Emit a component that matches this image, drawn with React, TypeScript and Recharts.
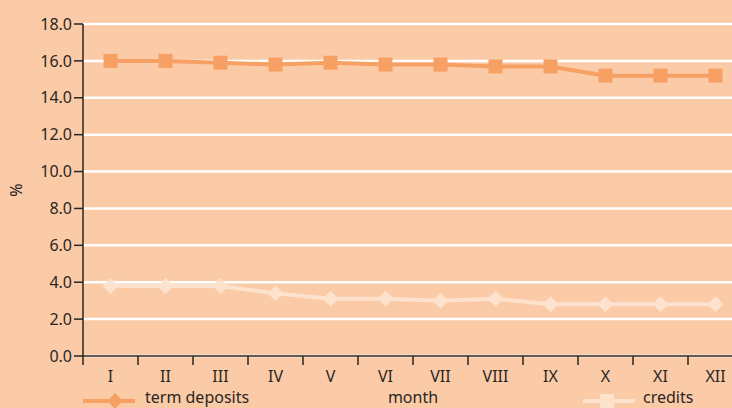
import React from "react";
import {
  LineChart,
  Line,
  XAxis,
  YAxis,
  CartesianGrid,
  Legend,
} from "recharts";

const months = ["I", "II", "III", "IV", "V", "VI", "VII", "VIII", "IX", "X", "XI", "XII"];
const termDeposits = [16.0, 16.0, 15.9, 15.8, 15.9, 15.8, 15.8, 15.7, 15.7, 15.2, 15.2, 15.2];
const credits = [3.8, 3.8, 3.8, 3.4, 3.1, 3.1, 3.0, 3.1, 2.8, 2.8, 2.8, 2.8];
const yTicks = [0, 2, 4, 6, 8, 10, 12, 14, 16, 18];

const data = months.map((m, i) => ({
  month: m,
  termDeposits: termDeposits[i],
  credits: credits[i],
}));

const BG = "#FBCBA8";
const ORANGE = "#F7A064";
const LIGHT = "#FDE2CD";
const INK = "#2a2622";
const FONT = "'Noto Sans', sans-serif";

const W = 743;
const H = 408;
const Y_AXIS_W = 83;
const BAND = (W - Y_AXIS_W) / months.length;

const SquareDot = (props: any) => {
  const { cx, cy, index } = props;
  if (cx == null || cy == null) return null;
  return <rect key={`sq-${index}`} x={cx - 7} y={cy - 7} width={14} height={14} fill={ORANGE} />;
};

const DiamondDot = (props: any) => {
  const { cx, cy, index } = props;
  if (cx == null || cy == null) return null;
  const r = 8;
  return (
    <polygon
      key={`dm-${index}`}
      points={`${cx},${cy - r} ${cx + r},${cy} ${cx},${cy + r} ${cx - r},${cy}`}
      fill={LIGHT}
    />
  );
};

// Tick marks sit on band boundaries, labels in band centres
const MonthTick = (props: any) => {
  const { x, y, payload } = props;
  const bx = x - BAND / 2;
  return (
    <g>
      <line x1={bx} y1={y - 8} x2={bx} y2={y + 1} stroke={INK} strokeWidth={1.5} />
      <text x={x} y={y + 18} textAnchor="middle" fill={INK} fontSize={16} fontFamily={FONT}>
        {payload.value}
      </text>
    </g>
  );
};

const LegendContent = () => (
  <div style={{ position: "relative", width: W, height: 20, fontFamily: FONT, fontSize: 16, color: INK }}>
    <div style={{ position: "absolute", left: 83, top: 1, display: "flex", alignItems: "center" }}>
      <svg width={52} height={20}>
        <line x1={0} y1={12} x2={52} y2={12} stroke={ORANGE} strokeWidth={4} />
        <polygon points="32,4 40,12 32,20 24,12" fill={ORANGE} />
      </svg>
      <span style={{ marginLeft: 10, lineHeight: "20px", position: "relative", top: -2 }}>term deposits</span>
    </div>
    <div style={{ position: "absolute", left: 583, top: 1, display: "flex", alignItems: "center" }}>
      <svg width={52} height={20}>
        <line x1={0} y1={12} x2={52} y2={12} stroke={LIGHT} strokeWidth={4} />
        <rect x={17} y={5} width={14} height={14} fill={LIGHT} />
      </svg>
      <span style={{ marginLeft: 8, lineHeight: "20px", position: "relative", top: -2 }}>credits</span>
    </div>
  </div>
);

export default function App() {
  return (
    <div style={{ position: "absolute", left: 0, top: 0, width: 732, height: H, overflow: "hidden", background: BG }}>
      <LineChart
        width={W}
        height={H}
        data={data}
        margin={{ top: 24, right: 0, left: 0, bottom: 0 }}
        style={{ background: BG }}
      >
        <CartesianGrid vertical={false} stroke="#FFFFFF" strokeWidth={2.5} />
        <XAxis
          dataKey="month"
          scale="band"
          height={32}
          tickLine={false}
          axisLine={{ stroke: INK, strokeWidth: 1.5 }}
          tick={<MonthTick />}
          interval={0}
          label={{ value: "month", position: "insideBottom", offset: -15, fill: INK, fontSize: 16, fontFamily: FONT }}
        />
        <YAxis
          width={Y_AXIS_W}
          domain={[0, 18]}
          ticks={yTicks}
          interval={0}
          tickFormatter={(v: number) => v.toFixed(1)}
          tickSize={9}
          tickMargin={2}
          tickLine={{ stroke: INK, strokeWidth: 1.5 }}
          axisLine={{ stroke: INK, strokeWidth: 1.5 }}
          tick={{ fill: INK, fontSize: 16, fontFamily: FONT }}
          label={{
            content: () => (
              <text
                x={22}
                y={190}
                transform="rotate(-90, 22, 190)"
                textAnchor="middle"
                fill={INK}
                fontSize={16}
                fontFamily={FONT}
              >
                %
              </text>
            ),
          }}
        />
        <Legend
          verticalAlign="bottom"
          height={20}
          wrapperStyle={{ position: "absolute", left: 0, top: 388, width: W }}
          content={<LegendContent />}
        />
        <Line
          type="linear"
          dataKey="termDeposits"
          name="term deposits"
          stroke={ORANGE}
          strokeWidth={4}
          dot={<SquareDot />}
          activeDot={false}
          isAnimationActive={false}
        />
        <Line
          type="linear"
          dataKey="credits"
          name="credits"
          stroke={LIGHT}
          strokeWidth={4}
          dot={<DiamondDot />}
          activeDot={false}
          isAnimationActive={false}
        />
      </LineChart>
    </div>
  );
}
